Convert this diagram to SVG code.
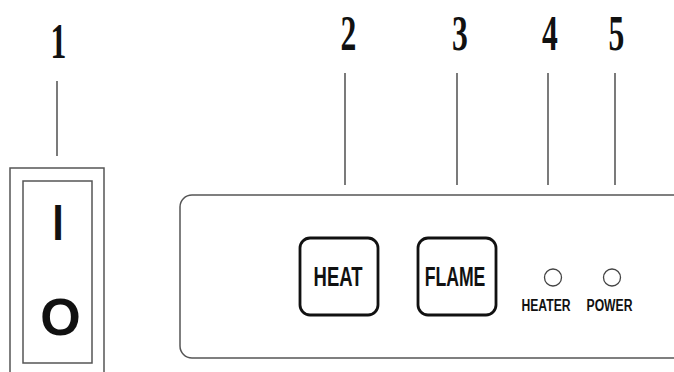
<svg xmlns="http://www.w3.org/2000/svg" width="674" height="372" viewBox="0 0 674 372">
<style>
.num{font-family:"Liberation Serif","Times New Roman",serif;font-weight:bold;font-size:51px;fill:#111;text-anchor:middle}
.lead{stroke:#333;stroke-width:1.3;fill:none}
.frame{stroke:#555;stroke-width:1.5;fill:#fff}
.btn{stroke:#111;stroke-width:2.8;fill:#fff}
.btxt{font-family:"Liberation Sans",Arial,sans-serif;font-weight:bold;font-size:28px;fill:#111;text-anchor:middle}
.stxt{font-family:"Liberation Sans",Arial,sans-serif;font-weight:bold;font-size:16px;fill:#111;text-anchor:middle}
.led{stroke:#444;stroke-width:1.3;fill:#fff}
.sw{font-family:"Liberation Sans",Arial,sans-serif;font-size:50px;fill:#111;text-anchor:middle}
</style>
<g id="connectors">
<line class="lead" x1="57" y1="81" x2="57" y2="156"/>
<line class="lead" x1="345" y1="73" x2="345" y2="185"/>
<line class="lead" x1="457" y1="73" x2="457" y2="185"/>
<line class="lead" x1="548" y1="73" x2="548" y2="185"/>
<line class="lead" x1="615" y1="73" x2="615" y2="185"/>
</g>
<g id="labels">
<text class="num" transform="translate(58.5,58) scale(0.62,1)">1</text>
<text class="num" transform="translate(348.5,50) scale(0.62,1)">2</text>
<text class="num" transform="translate(460,50) scale(0.62,1)">3</text>
<text class="num" transform="translate(550,50) scale(0.62,1)">4</text>
<text class="num" transform="translate(616.5,50) scale(0.62,1)">5</text>
</g>
<g id="switch">
<rect class="frame" x="10" y="168" width="94" height="220"/>
<rect class="frame" x="23" y="181" width="69" height="182"/>
<text class="sw" x="58" y="240" style="font-weight:bold" transform="translate(58,0) scale(0.8,1) translate(-58,0)">I</text>
<text class="sw" x="60.5" y="335" style="font-weight:bold;font-size:52px">O</text>
</g>
<g id="panel">
<rect class="frame" x="180" y="195" width="510" height="163" rx="12" ry="12"/>
</g>
<g id="heat-button">
<rect class="btn" x="300" y="238" width="78" height="77" rx="10" ry="10"/>
<text class="btxt" transform="translate(338,286) scale(0.66,1)">HEAT</text>
</g>
<g id="flame-button">
<rect class="btn" x="418" y="238" width="78" height="77" rx="10" ry="10"/>
<text class="btxt" transform="translate(455,286) scale(0.63,1)">FLAME</text>
</g>
<g id="heater-led">
<circle class="led" cx="553" cy="277.5" r="8.5"/>
<text class="stxt" transform="translate(546,311) scale(0.76,1)">HEATER</text>
</g>
<g id="power-led">
<circle class="led" cx="612" cy="277.5" r="8.5"/>
<text class="stxt" transform="translate(609.5,311) scale(0.76,1)">POWER</text>
</g>
</svg>
